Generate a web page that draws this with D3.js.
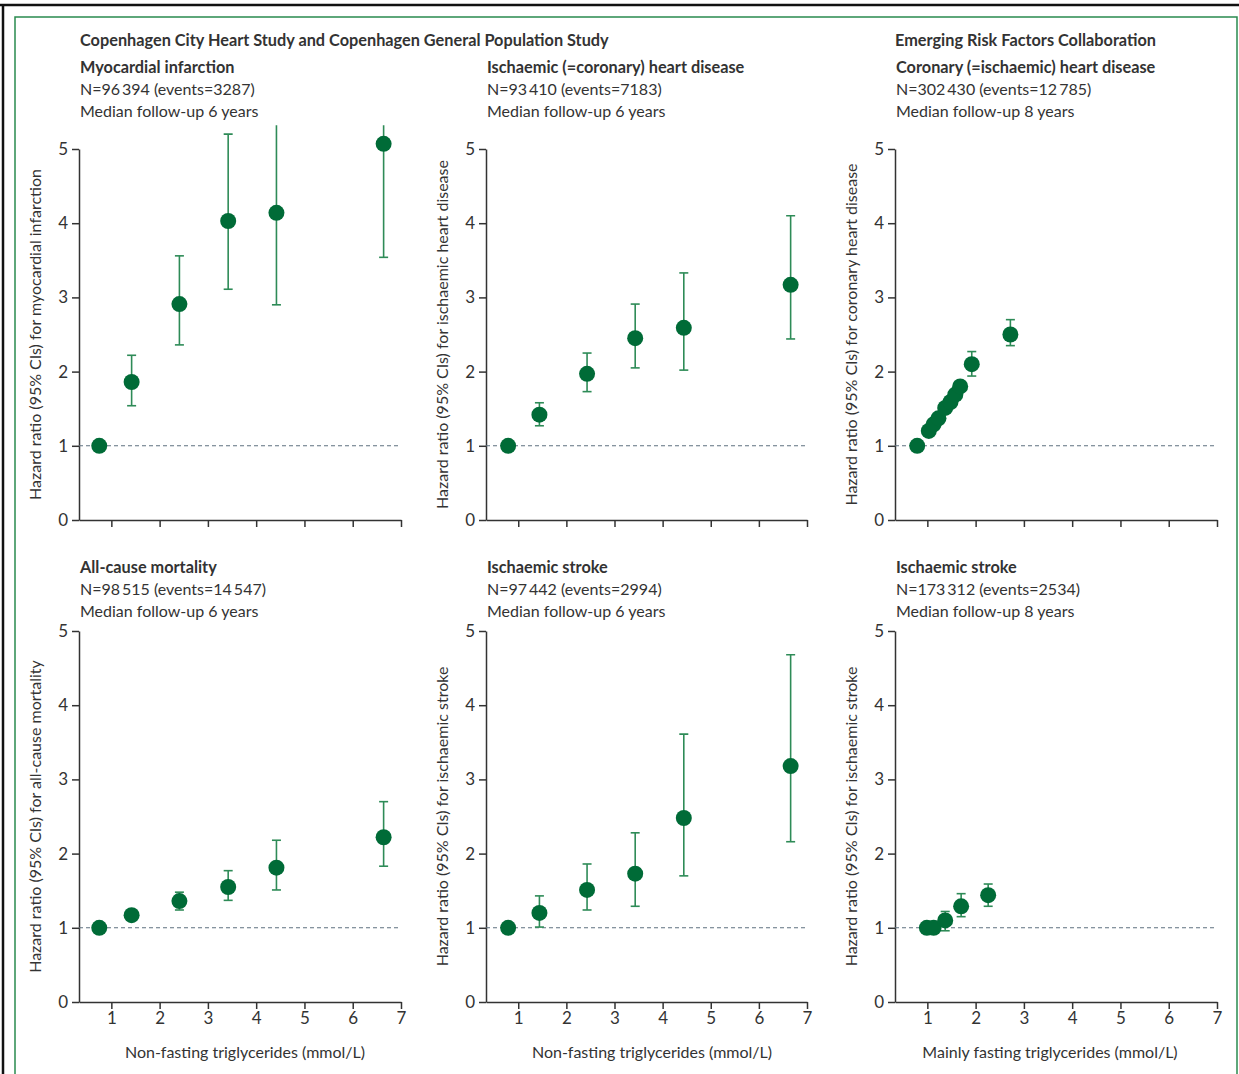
<!DOCTYPE html>
<html><head><meta charset="utf-8">
<script src="https://cdn.jsdelivr.net/npm/d3@7"></script>
<style>
body{margin:0;background:#fff;}
svg{display:block;}
text{font-family:Lato,"Open Sans",sans-serif;fill:#333;}
</style></head><body>
<svg id="c" width="1239" height="1074"></svg>
<script>
// ---- data ----
const yTicks = [0,1,2,3,4,5];
const xTicks = [1,2,3,4,5,6,7];
const studyHeaders = ["Copenhagen City Heart Study and Copenhagen General Population Study", "Emerging Risk Factors Collaboration"];
const panelTitles = ["Myocardial infarction","Ischaemic (=coronary) heart disease","Coronary (=ischaemic) heart disease","All-cause mortality","Ischaemic stroke","Ischaemic stroke"];
const panelN = ["N=96\u2009394 (events=3287)","N=93\u2009410 (events=7183)","N=302\u2009430 (events=12\u2009785)","N=98\u2009515 (events=14\u2009547)","N=97\u2009442 (events=2994)","N=173\u2009312 (events=2534)"];
const panelFollow = ["Median follow-up 6 years","Median follow-up 6 years","Median follow-up 8 years","Median follow-up 6 years","Median follow-up 6 years","Median follow-up 8 years"];
const yLabels = ["Hazard ratio (95% CIs) for myocardial infarction","Hazard ratio (95% CIs) for ischaemic heart disease","Hazard ratio (95% CIs) for coronary heart disease","Hazard ratio (95% CIs) for all-cause mortality","Hazard ratio (95% CIs) for ischaemic stroke","Hazard ratio (95% CIs) for ischaemic stroke"];
const xLabels = ["Non-fasting triglycerides (mmol/L)","Non-fasting triglycerides (mmol/L)","Mainly fasting triglycerides (mmol/L)"];

// each: triglyceride level, hazard ratio, lower CI, upper CI (null = no CI)
const miX  = [0.75,1.42,2.41,3.42,4.42,6.64];
const miHR = [1.00,1.86,2.91,4.03,4.14,5.07];
const miLo = [null,1.54,2.36,3.11,2.90,3.54];
const miHi = [null,2.22,3.56,5.20,6.00,6.00];

const ihdX  = [0.79,1.44,2.43,3.43,4.44,6.66];
const ihdHR = [1.00,1.42,1.97,2.45,2.59,3.17];
const ihdLo = [null,1.27,1.73,2.05,2.02,2.44];
const ihdHi = [null,1.58,2.25,2.91,3.33,4.10];

const erfcChdX  = [0.79,1.03,1.13,1.23,1.37,1.48,1.58,1.68,1.92,2.72];
const erfcChdHR = [1.00,1.20,1.29,1.37,1.51,1.59,1.69,1.80,2.10,2.50];
const erfcChdLo = [null,null,null,null,null,null,null,null,1.94,2.35];
const erfcChdHi = [null,null,null,null,null,null,null,null,2.27,2.70];

const acmX  = [0.75,1.42,2.41,3.42,4.42,6.64];
const acmHR = [1.00,1.17,1.36,1.55,1.81,2.22];
const acmLo = [null,null,1.24,1.37,1.51,1.83];
const acmHi = [null,null,1.48,1.77,2.18,2.70];

const strokeX  = [0.79,1.44,2.43,3.43,4.44,6.66];
const strokeHR = [1.00,1.20,1.51,1.73,2.48,3.18];
const strokeLo = [null,1.01,1.24,1.29,1.70,2.16];
const strokeHi = [null,1.43,1.86,2.28,3.61,4.68];

const erfcStrX  = [0.99,1.13,1.37,1.70,2.26];
const erfcStrHR = [1.00,1.00,1.10,1.29,1.44];
const erfcStrLo = [null,null,0.96,1.15,1.29];
const erfcStrHi = [null,null,1.22,1.46,1.59];

const series = [
  [miX,miHR,miLo,miHi],[ihdX,ihdHR,ihdLo,ihdHi],[erfcChdX,erfcChdHR,erfcChdLo,erfcChdHi],
  [acmX,acmHR,acmLo,acmHi],[strokeX,strokeHR,strokeLo,strokeHi],[erfcStrX,erfcStrHR,erfcStrLo,erfcStrHi]
];

// ---- layout ----
const svg = d3.select("#c");
const colL = [79,486,895], colR=[401,807,1217];
const rowT = [149,631], plotH = 371;
const xLabelCx = [245,652,1050];
const ylabX = [41,448,857];
const dotCol = "#006b37", barCol = "#2e8b57", axCol = "#333";
const FONT = 'Lato,"Open Sans",sans-serif';

// frame
svg.append("line").attr("x1",0).attr("x2",1239).attr("y1",5).attr("y2",5).attr("stroke","#111").attr("stroke-width",2.5);
svg.append("line").attr("x1",3).attr("x2",3).attr("y1",4).attr("y2",1074).attr("stroke","#111").attr("stroke-width",2.5);
svg.append("path").attr("d","M15,1074V17H1237V1074").attr("fill","none").attr("stroke","#2a8a4f").attr("stroke-width",1.5);

// study headers
svg.append("text").attr("x",80).attr("y",46).attr("font-size",16.3).attr("font-weight","bold").attr("fill","#222").text(studyHeaders[0]);
svg.append("text").attr("x",895).attr("y",46).attr("font-size",16.3).attr("font-weight","bold").attr("fill","#222").text(studyHeaders[1]);

const defs = svg.append("defs");

for (let i=0;i<6;i++){
  const r = Math.floor(i/3), c = i%3;
  const top = rowT[r], bot = top+plotH;
  const x = d3.scaleLinear().domain([0.33,7]).range([colL[c],colR[c]]);
  const y = d3.scaleLinear().domain([0,5]).range([bot,top]);
  const g = svg.append("g");
  const tx = colL[c]+1, tb = r===0 ? 73 : 573;
  g.append("text").attr("x",tx).attr("y",tb).attr("font-size",16.3).attr("font-weight","bold").attr("fill","#222").text(panelTitles[i]);
  g.append("text").attr("x",tx).attr("y",tb+22).attr("font-size",16).text(panelN[i]);
  g.append("text").attr("x",tx).attr("y",tb+44).attr("font-size",16).text(panelFollow[i]);

  // y axis
  const ya = g.append("g").attr("transform",`translate(${colL[c]},0)`)
    .call(d3.axisLeft(y).tickValues(yTicks).tickSize(7).tickSizeOuter(0).tickPadding(4).tickFormat(d3.format("d")));
  // x axis
  const xa = g.append("g").attr("transform",`translate(0,${bot})`)
    .call(d3.axisBottom(x).tickValues(xTicks).tickSize(7).tickSizeOuter(0).tickPadding(3).tickFormat(r===1?d3.format("d"):""));
  [ya,xa].forEach(a=>{
    a.select(".domain").attr("stroke",axCol).attr("stroke-width",1.5);
    a.selectAll(".tick line").attr("stroke",axCol).attr("stroke-width",1.5);
    a.selectAll(".tick text").attr("font-size",17).attr("fill","#333").style("font-family",FONT);
  });

  // y label
  g.append("text").attr("transform",`translate(${ylabX[c]},${(top+bot)/2}) rotate(-90)`)
    .attr("text-anchor","middle").attr("font-size",16).text(yLabels[i]);
  if (r===1) g.append("text").attr("x",xLabelCx[c]).attr("y",1058).attr("text-anchor","middle").attr("font-size",16).text(xLabels[c]);

  // reference line
  g.append("line").attr("x1",colL[c]).attr("x2",colR[c]).attr("y1",y(1)).attr("y2",y(1))
    .attr("stroke","#5f7280").attr("stroke-width",1.1).attr("stroke-dasharray","4,3");

  // clip
  const cid = "clip"+i;
  defs.append("clipPath").attr("id",cid).append("rect")
    .attr("x",colL[c]).attr("width",colR[c]-colL[c]+20).attr("y",y(5.32)).attr("height",y(0)-y(5.32));

  const [xs,hr,lo,hi] = series[i];
  const pts = xs.map((v,k)=>({x:v,hr:hr[k],lo:lo[k],hi:hi[k]}));
  const m = g.append("g").attr("clip-path",`url(#${cid})`);
  const withCI = pts.filter(p=>p.lo!==null);
  m.selectAll(".v").data(withCI).join("line").attr("x1",p=>x(p.x)).attr("x2",p=>x(p.x))
    .attr("y1",p=>y(p.lo)).attr("y2",p=>y(p.hi)).attr("stroke",barCol).attr("stroke-width",1.6);
  m.selectAll(".cl").data(withCI).join("line").attr("x1",p=>x(p.x)-4.5).attr("x2",p=>x(p.x)+4.5)
    .attr("y1",p=>y(p.lo)).attr("y2",p=>y(p.lo)).attr("stroke",barCol).attr("stroke-width",1.6);
  m.selectAll(".ch").data(withCI).join("line").attr("x1",p=>x(p.x)-4.5).attr("x2",p=>x(p.x)+4.5)
    .attr("y1",p=>y(p.hi)).attr("y2",p=>y(p.hi)).attr("stroke",barCol).attr("stroke-width",1.6);
  m.selectAll("circle").data(pts).join("circle").attr("cx",p=>x(p.x)).attr("cy",p=>y(p.hr)).attr("r",8).attr("fill",dotCol);
}
</script></body></html>
